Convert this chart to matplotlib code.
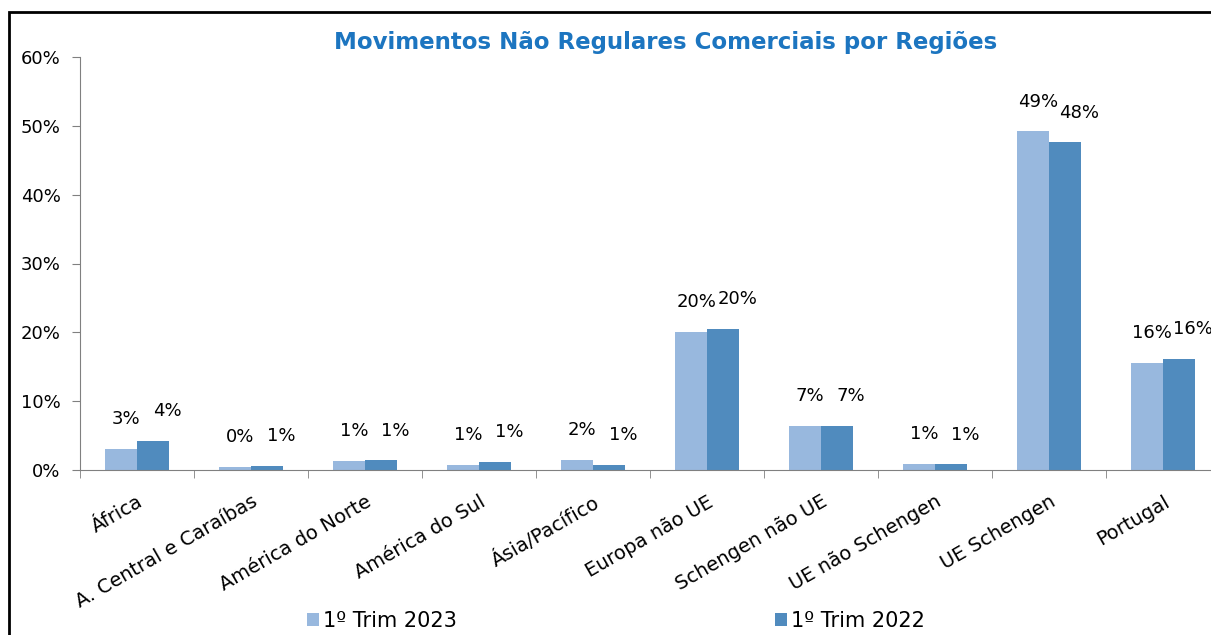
import matplotlib
matplotlib.use('Agg')
import matplotlib.pyplot as plt
import matplotlib.ticker as ticker
from matplotlib.patches import Rectangle
import numpy as np

# Data
regioes = ['África', 'A. Central e Caraíbas', 'América do Norte', 'América do Sul',
           'Ásia/Pacífico', 'Europa não UE', 'Schengen não UE', 'UE não Schengen',
           'UE Schengen', 'Portugal']
trim_2023 = [3.1, 0.4, 1.3, 0.7, 1.5, 20.1, 6.4, 0.9, 49.2, 15.6]
trim_2022 = [4.2, 0.6, 1.4, 1.2, 0.7, 20.5, 6.4, 0.8, 47.6, 16.1]
labels_2023 = ['3%', '0%', '1%', '1%', '2%', '20%', '7%', '1%', '49%', '16%']
labels_2022 = ['4%', '1%', '1%', '1%', '1%', '20%', '7%', '1%', '48%', '16%']

plt.rcParams['font.family'] = ['DejaVu Sans']

fig = plt.figure(figsize=(12.11, 6.35), dpi=100)
# outer chart frame (cropped on right/bottom)
fig.patches.append(Rectangle((9 / 1211, -0.1), 2, 1 - 12 / 635 + 0.1,
                             transform=fig.transFigure, fill=False,
                             edgecolor='black', linewidth=2))

ax = fig.add_axes([80 / 1211, 1 - 470 / 635, 1140 / 1211, 413 / 635])
ax.set_facecolor('none')

x = np.arange(len(regioes))
w = 0.285
c23 = '#98B8DE'
c22 = '#508BBE'
ax.bar(x - w / 2, trim_2023, w, color=c23, label='1º Trim 2023', zorder=2)
ax.bar(x + w / 2, trim_2022, w, color=c22, label='1º Trim 2022', zorder=2)

for i in range(len(regioes)):
    ax.annotate(labels_2023[i], (x[i] - w / 2, trim_2023[i]), xytext=(4, 15),
                textcoords='offset points', ha='center', va='bottom', fontsize=13)
    ax.annotate(labels_2022[i], (x[i] + w / 2, trim_2022[i]), xytext=(10, 15),
                textcoords='offset points', ha='center', va='bottom', fontsize=13)

ax.set_xlim(-0.5, len(regioes) - 0.5)
ax.set_ylim(0, 60)
ax.yaxis.set_major_locator(ticker.MultipleLocator(10))
ax.yaxis.set_major_formatter(ticker.FuncFormatter(lambda v, p: f'{v:.0f}%'))
ax.tick_params(axis='y', labelsize=13, length=6, color='#808080', pad=8)

ax.set_xticks(x)
ax.set_xticklabels(regioes, rotation=30, ha='right', rotation_mode='anchor', fontsize=14)
ax.tick_params(axis='x', length=0, pad=16)
ax.set_xticks(np.arange(len(regioes) + 1) - 0.5, minor=True)
ax.tick_params(axis='x', which='minor', length=6, color='#808080')

for s in ['top', 'right']:
    ax.spines[s].set_visible(False)
ax.spines['left'].set_color('#808080')
ax.spines['bottom'].set_color('#808080')

fig.text(666 / 1211, 1 - 43 / 635, 'Movimentos Não Regulares Comerciais por Regiões',
         ha='center', va='center', fontsize=16.5, fontweight='bold', color='#1C75C0')

fig.legend(loc='center', bbox_to_anchor=(616 / 1211, 1 - 621 / 635), ncol=2,
           frameon=False, fontsize=15, handlelength=0.55, handleheight=0.55,
           handletextpad=0.2, columnspacing=15.3)

fig.savefig('out.png', dpi=100)
